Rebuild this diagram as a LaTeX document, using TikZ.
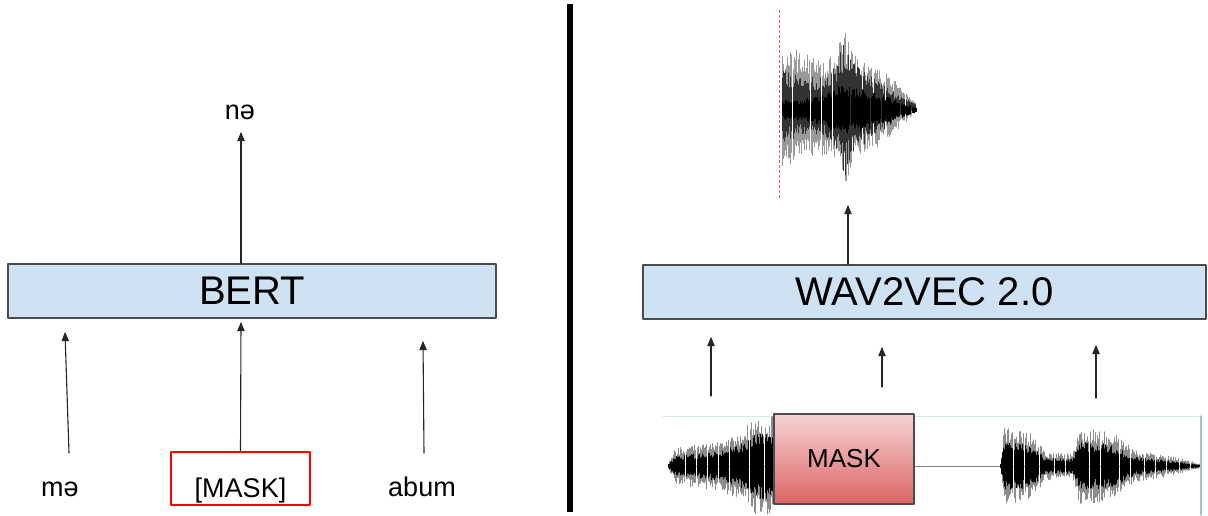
\documentclass[tikz,border=0pt]{standalone}
\usepackage{fontspec}
\setmainfont{Liberation Sans}
\usetikzlibrary{arrows}
\definecolor{bertblue}{HTML}{CFE2F3}
\definecolor{maskpink}{HTML}{F6D3D3}
\definecolor{maskred}{HTML}{DC6464}
\definecolor{wavetop}{HTML}{D5E9EA}
\definecolor{waveedge}{HTML}{9FC3D9}
\definecolor{cursorred}{HTML}{E85A5A}

% vertical strokes of a waveform: #1 centre, #2 style, #3 envelope x1/e1/x2/e2
\newcommand{\wavepart}[3]{%
  \foreach \xa/\ea/\xb/\eb in {#3} {%
    \pgfmathsetmacro\xc{\xa+1.1}
    \foreach \xx in {\xa,\xc,...,\xb} {%
      \pgfmathsetmacro\ee{\ea+(\eb-\ea)*(\xx-\xa)/(\xb-\xa)}
      \pgfmathsetmacro\ru{\ee*(0.55+0.45*rnd)}
      \pgfmathsetmacro\rd{\ee*(0.55+0.45*rnd)}
      \draw[#2] (\xx,{#1-\ru}) -- (\xx,{#1+\rd});
    }
  }%
}

\begin{document}
\begin{tikzpicture}[line cap=round,line join=round,>=triangle 45,x=1pt,y=-1pt,
  model/.style={draw=black!70,line width=1.5pt,fill=bertblue,minimum height=54pt,
    inner sep=0pt,font=\fontsize{40}{48}\selectfont},
  tok/.style={font=\fontsize{27}{32}\selectfont,anchor=base,inner sep=0pt},
  tokarrow/.style={->,line width=1.1pt,black!85},
  maskwave/.style={draw=black!70,line width=1.2pt,top color=maskpink,bottom color=maskred,
    minimum width=140pt,minimum height=90pt,inner sep=0pt,font=\fontsize{26}{30}\selectfont}]
\useasboundingbox (0,0) rectangle (1208,515);
\pgfmathsetseed{11}

% divider
\draw[line width=6pt,line cap=butt] (570,4) -- (570,512);

% BERT side
\node[model,minimum width=488pt] (bert) at (252,291) {BERT};
\node[tok] (outtok) at (240,119) {nə};
\node[tok] (me) at (60,496) {mə};
\node[tok,draw=red,line width=1.2pt,text height=45pt,text depth=8pt,minimum width=139pt] (masktok) at (240.5,497) {[MASK]};
\node[tok] (abum) at (422,496) {abum};
\coordinate (outtip) at (241,132);
\coordinate (me-foot) at (69,453);
\coordinate (me-tip) at (65,332);
\coordinate (mask-tip) at (241,322);
\coordinate (abum-foot) at (424,453);
\coordinate (abum-tip) at (423,341);
\draw[tokarrow] (bert.north -| outtip) -- (outtip);
\draw[tokarrow] (me-foot) -- (me-tip);
\draw[tokarrow] (masktok.north) -- (mask-tip);
\draw[tokarrow] (abum-foot) -- (abum-tip);

% wav2vec side
\node[model,minimum width=563pt] (wav) at (924.5,292) {WAV2VEC 2.0};
\coordinate (wavtip) at (848,205);
\draw[tokarrow] (wav.north -| wavtip) -- (wavtip);
\coordinate (fa-foot) at (711,396);
\coordinate (fa-tip) at (711,337);
\coordinate (fb-foot) at (882,387);
\coordinate (fb-tip) at (882,347);
\coordinate (fc-foot) at (1096,398);
\coordinate (fc-tip) at (1096,345);
\draw[tokarrow] (fa-foot) -- (fa-tip);
\draw[tokarrow] (fb-foot) -- (fb-tip);
\draw[tokarrow] (fc-foot) -- (fc-tip);

% predicted waveform
\wavepart{107}{black!40,line width=0.9pt}{782/60/800/58, 800/58/822/50, 822/50/836/55, 836/55/845/82, 845/82/852/55, 852/55/875/42, 875/42/895/26, 895/26/917/4}
\wavepart{107}{black!80,line width=0.9pt}{782/38/800/30, 800/30/822/30, 822/30/836/42, 836/42/845/68, 845/68/852/45, 852/45/875/30, 875/30/895/14, 895/14/917/3}
\wavepart{110}{black,line width=0.9pt}{782/10/800/10, 800/10/822/15, 822/15/840/25, 840/25/860/22, 860/22/890/12, 890/12/917/2}
\draw[cursorred,line width=1.2pt,line cap=butt,dash pattern=on 3pt off 2pt] (779.5,10) -- (779.5,198);

% input waveform
\draw[wavetop,line width=1pt] (663,416) -- (1200,416);
\draw[waveedge,line width=1.5pt] (1201,416) -- (1201,515);
\draw[black!50,line width=0.8pt] (668,466) -- (1200,466);
\wavepart{466}{black!45,line width=0.8pt}{668/3/676/18, 676/18/720/26, 720/26/740/35, 740/35/755/48, 755/48/774/50}
\wavepart{466}{black,line width=0.8pt}{668/2/676/10, 676/10/720/15, 720/15/740/22, 740/22/755/32, 755/32/774/34}
\wavepart{466}{black!45,line width=0.8pt}{1000/2/1004/38, 1004/38/1030/34, 1030/34/1045/14, 1045/14/1072/12, 1072/12/1080/38, 1080/38/1110/36, 1110/36/1135/16, 1135/16/1170/10, 1170/10/1200/2}
\wavepart{466}{black,line width=0.8pt}{1000/2/1004/24, 1004/24/1030/22, 1030/22/1045/8, 1045/8/1072/7, 1072/7/1080/24, 1080/24/1110/22, 1110/22/1135/9, 1135/9/1170/5, 1170/5/1200/1}
\node[maskwave] (maskwav) at (844,459) {MASK};
\end{tikzpicture}
\end{document}
